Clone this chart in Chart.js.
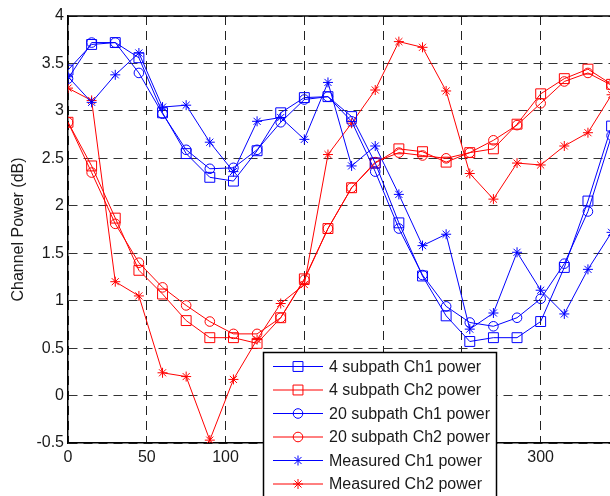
<!DOCTYPE html>
<html>
<head>
<meta charset="utf-8">
<script src="https://cdn.jsdelivr.net/npm/chart.js@4.4.0/dist/chart.umd.min.js"></script>
<style>
  html, body { margin: 0; padding: 0; background: #fff; }
</style>
</head>
<body>
<canvas id="chart" width="610" height="496"></canvas>
<script>
// x positions of samples
const xValues = [0, 15, 30, 45, 60, 75, 90, 105, 120, 135, 150, 165, 180, 195, 210, 225, 240, 255, 270, 285, 300, 315, 330, 345];

const sub4Ch1 = [3.43, 3.70, 3.72, 3.56, 2.98, 2.55, 2.30, 2.26, 2.58, 2.98, 3.14, 3.15, 2.94, 2.45, 1.82, 1.26, 0.84, 0.57, 0.61, 0.61, 0.78, 1.35, 2.05, 2.84];
const sub4Ch2 = [2.88, 2.42, 1.87, 1.32, 1.07, 0.79, 0.61, 0.61, 0.55, 0.82, 1.23, 1.76, 2.19, 2.45, 2.60, 2.57, 2.46, 2.56, 2.60, 2.86, 3.18, 3.34, 3.44, 3.28];
const sub20Ch1 = [3.34, 3.72, 3.72, 3.40, 2.97, 2.59, 2.39, 2.40, 2.59, 2.88, 3.12, 3.15, 2.89, 2.36, 1.76, 1.27, 0.94, 0.77, 0.73, 0.82, 1.02, 1.39, 1.94, 2.74];
const sub20Ch2 = [2.88, 2.35, 1.81, 1.40, 1.14, 0.95, 0.78, 0.65, 0.65, 0.82, 1.22, 1.76, 2.19, 2.46, 2.56, 2.53, 2.50, 2.56, 2.69, 2.85, 3.08, 3.31, 3.40, 3.27];
const measCh1 = [3.36, 3.09, 3.38, 3.61, 3.04, 3.06, 2.67, 2.36, 2.89, 2.93, 2.70, 3.30, 2.42, 2.63, 2.12, 1.58, 1.70, 0.70, 0.87, 1.51, 1.11, 0.86, 1.33, 1.72];
const measCh2 = [3.24, 3.11, 1.20, 1.05, 0.24, 0.20, -0.47, 0.17, 0.59, 0.97, 1.17, 2.54, 2.87, 3.22, 3.73, 3.67, 3.21, 2.34, 2.07, 2.45, 2.43, 2.63, 2.77, 3.17];

const labels = ['4 subpath Ch1 power', '4 subpath Ch2 power', '20 subpath Ch1 power', '20 subpath Ch2 power', 'Measured Ch1 power', 'Measured Ch2 power'];

const FONT = 'Liberation Sans, Arial, sans-serif';
const BLUE = '#0000ff';
const RED = '#ff0000';

function series(label, values, color, style, radius) {
  return {
    label,
    data: values.map((v, i) => ({ x: xValues[i], y: v })),
    borderColor: color,
    borderWidth: 1,
    pointStyle: style,
    pointRadius: radius,
    pointHoverRadius: radius,
    pointBorderColor: color,
    pointBackgroundColor: 'rgba(0,0,0,0)',
    pointBorderWidth: 1,
    tension: 0
  };
}

// top border + boxed legend sitting over the lower middle of the axes
const boxLegend = {
  id: 'boxLegend',
  afterDraw(chart) {
    const ctx = chart.ctx;
    const a = chart.chartArea;
    ctx.save();
    ctx.strokeStyle = '#000';
    ctx.lineWidth = 1.5;
    ctx.beginPath();
    ctx.moveTo(a.left, a.top);
    ctx.lineTo(a.right, a.top);
    ctx.stroke();

    ctx.fillStyle = '#fff';
    ctx.lineWidth = 1.5;
    ctx.fillRect(263.5, 352.5, 233, 150);
    ctx.strokeRect(263.5, 352.5, 233, 150);

    ctx.font = '16px ' + FONT;
    ctx.textBaseline = 'middle';
    chart.data.datasets.forEach((ds, i) => {
      const y = 366.5 + i * 23.5;
      ctx.strokeStyle = ds.borderColor;
      ctx.lineWidth = 1;
      ctx.beginPath();
      ctx.moveTo(273, y);
      ctx.lineTo(323, y);
      ctx.stroke();
      ctx.fillStyle = 'rgba(0,0,0,0)';
      Chart.helpers.drawPoint(ctx, { pointStyle: ds.pointStyle, radius: ds.pointRadius, borderWidth: 1, rotation: 0 }, 298, y);
      ctx.fillStyle = '#1a1a1a';
      ctx.fillText(ds.label, 329, y + 1);
    });
    ctx.restore();
  }
};

new Chart(document.getElementById('chart'), {
  type: 'line',
  data: {
    datasets: [
      series(labels[0], sub4Ch1, BLUE, 'rect', 7),
      series(labels[1], sub4Ch2, RED, 'rect', 7),
      series(labels[2], sub20Ch1, BLUE, 'circle', 4.8),
      series(labels[3], sub20Ch2, RED, 'circle', 4.8),
      series(labels[4], measCh1, BLUE, 'star', 5),
      series(labels[5], measCh2, RED, 'star', 5)
    ]
  },
  options: {
    responsive: false,
    animation: false,
    layout: { autoPadding: false, padding: { top: 16, right: 0, bottom: 0, left: 0 } },
    plugins: { legend: { display: false }, tooltip: { enabled: false } },
    scales: {
      x: {
        type: 'linear',
        min: 0,
        max: 344,
        afterBuildTicks: s => { s.ticks = s.ticks.filter(t => t.value % 50 === 0); },
        afterFit: s => { s.height = 53; },
        ticks: { stepSize: 50, color: '#1a1a1a', padding: 5, maxRotation: 0, font: { family: FONT, size: 16 } },
        grid: { color: '#222', lineWidth: 1, drawTicks: false },
        border: { color: '#000', width: 1.5, dash: [9, 6] }
      },
      y: {
        min: -0.5,
        max: 4,
        afterFit: s => { s.width = 68; },
        ticks: { stepSize: 0.5, color: '#1a1a1a', padding: 4, font: { family: FONT, size: 16 }, callback: v => String(v) },
        grid: { color: '#333', lineWidth: 1, drawTicks: false },
        border: { color: '#000', width: 1.5, dash: [9, 6] },
        title: { display: true, text: 'Channel Power (dB)', color: '#1a1a1a', padding: { top: 9, bottom: 0 }, font: { family: FONT, size: 16 } }
      }
    }
  },
  plugins: [boxLegend]
});
</script>
</body>
</html>
